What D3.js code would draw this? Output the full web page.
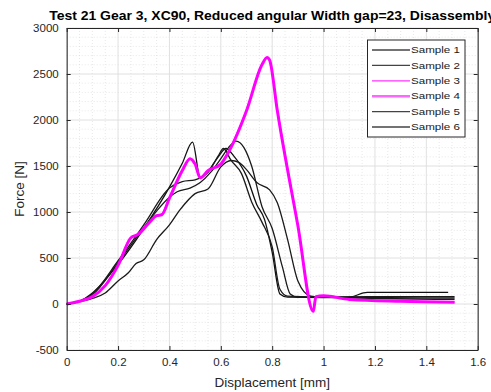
<!DOCTYPE html>
<html>
<head>
<meta charset="utf-8">
<script src="https://cdn.jsdelivr.net/npm/d3@7"></script>
<style>
  body { margin: 0; background: #fff; }
  svg { display: block; font-family: "Liberation Sans", Arial, sans-serif; }
</style>
</head>
<body>
<div id="chart"></div>
<script>
const seriesNames = ['Sample 1', 'Sample 2', 'Sample 3', 'Sample 4', 'Sample 5', 'Sample 6'];
const seriesColors = ['#111111', '#1a1a1a', '#ff00ff', '#ff00ff', '#1a1a1a', '#1a1a1a'];
const seriesWidths = [1.3, 1.3, 1.3, 3, 1.3, 1.3];

const xTicks = [0, 0.2, 0.4, 0.6, 0.8, 1, 1.2, 1.4, 1.6];
const yTicks = [-500, 0, 500, 1000, 1500, 2000, 2500, 3000];

// [displacement mm, force N]
const sample1 = [[0,0],[0.05,30],[0.1,120],[0.2,430],[0.3,820],[0.4,1270],[0.45,1530],[0.49,1760],[0.52,1370],[0.55,1440],[0.59,1600],[0.62,1690],[0.65,1610],[0.7,1390],[0.74,1080],[0.77,920],[0.8,560],[0.83,110],[0.86,75],[1.0,70],[1.1,75],[1.17,126],[1.485,126]];
const sample2 = [[0,0],[0.05,25],[0.1,60],[0.15,120],[0.2,250],[0.24,340],[0.27,440],[0.3,480],[0.35,700],[0.4,860],[0.44,1020],[0.5,1200],[0.55,1250],[0.6,1490],[0.64,1560],[0.67,1540],[0.7,1460],[0.74,1320],[0.79,1240],[0.82,1100],[0.86,700],[0.9,250],[0.95,85],[1.0,75],[1.51,65]];
const sample3 = [[0,0],[0.05,30],[0.1,80],[0.15,200],[0.2,430],[0.25,720],[0.28,760],[0.32,880],[0.35,960],[0.37,975],[0.4,1160],[0.45,1450],[0.48,1580],[0.5,1520],[0.52,1370],[0.55,1450],[0.6,1520],[0.63,1660],[0.7,2110],[0.76,2600],[0.78,2680],[0.79,2650],[0.82,2120],[0.9,860],[0.96,-70],[0.97,80],[1.0,90],[1.1,50],[1.3,30],[1.51,20]];
const sample4 = [[0,0],[0.05,30],[0.1,80],[0.15,200],[0.2,420],[0.25,720],[0.28,760],[0.32,880],[0.35,960],[0.37,970],[0.4,1150],[0.45,1450],[0.48,1580],[0.5,1520],[0.52,1370],[0.55,1450],[0.6,1520],[0.63,1650],[0.7,2100],[0.76,2600],[0.78,2680],[0.79,2650],[0.82,2100],[0.9,850],[0.96,-80],[0.97,80],[1.0,90],[1.1,50],[1.3,30],[1.51,20]];
const sample5 = [[0,0],[0.05,30],[0.1,100],[0.2,450],[0.3,830],[0.35,1010],[0.4,1160],[0.43,1220],[0.48,1260],[0.52,1320],[0.56,1430],[0.6,1580],[0.63,1700],[0.66,1770],[0.69,1700],[0.72,1500],[0.76,1060],[0.8,820],[0.84,400],[0.87,110],[0.9,75],[1.2,80],[1.51,80]];
const sample6 = [[0,0],[0.05,30],[0.1,110],[0.2,470],[0.3,860],[0.4,1260],[0.45,1330],[0.5,1350],[0.55,1430],[0.59,1610],[0.61,1690],[0.64,1560],[0.68,1420],[0.72,1110],[0.76,890],[0.8,620],[0.83,160],[0.86,85],[1.2,60],[1.51,50]];

const seriesData = [sample1, sample2, sample3, sample4, sample5, sample6];

const width = 491, height = 392;
const margin = {left: 66.7, right: 13.3, top: 28, bottom: 42};

const svg = d3.select('#chart').append('svg')
  .attr('width', width)
  .attr('height', height);

const xScale = d3.scaleLinear().domain([0, 1.6]).range([margin.left, width - margin.right]);
const yScale = d3.scaleLinear().domain([-500, 3000]).range([height - margin.bottom, margin.top]);

const [x0, x1] = xScale.range();
const [y0, y1] = yScale.range();

svg.append('rect')
  .attr('x', x0).attr('y', y1)
  .attr('width', x1 - x0).attr('height', y0 - y1)
  .attr('fill', '#fff');

// minor grid
const grid = svg.append('g');
grid.selectAll('.xminor')
  .data(d3.range(0, 1.6001, 0.05).filter(v => Math.abs(v / 0.2 - Math.round(v / 0.2)) > 1e-6))
  .enter().append('line')
    .attr('x1', d => xScale(d)).attr('x2', d => xScale(d))
    .attr('y1', y0).attr('y2', y1)
    .attr('stroke', '#d6d6d6').attr('stroke-width', 0.6)
    .attr('stroke-dasharray', '1,2');
grid.selectAll('.yminor')
  .data(d3.range(-500, 3001, 100).filter(v => v % 500 !== 0))
  .enter().append('line')
    .attr('x1', x0).attr('x2', x1)
    .attr('y1', d => yScale(d)).attr('y2', d => yScale(d))
    .attr('stroke', '#d6d6d6').attr('stroke-width', 0.6)
    .attr('stroke-dasharray', '1,2');
// major grid
grid.selectAll('.xmajor')
  .data(xTicks)
  .enter().append('line')
    .attr('x1', d => xScale(d)).attr('x2', d => xScale(d))
    .attr('y1', y0).attr('y2', y1)
    .attr('stroke', '#dcdcdc').attr('stroke-width', 0.9);
grid.selectAll('.ymajor')
  .data(yTicks)
  .enter().append('line')
    .attr('x1', x0).attr('x2', x1)
    .attr('y1', d => yScale(d)).attr('y2', d => yScale(d))
    .attr('stroke', '#dcdcdc').attr('stroke-width', 0.9);

// series
const line = d3.line()
  .x(d => xScale(d[0]))
  .y(d => yScale(d[1]))
  .curve(d3.curveMonotoneX);

const drawOrder = [0, 1, 4, 5, 2, 3];
svg.append('g').selectAll('path')
  .data(drawOrder)
  .enter().append('path')
    .attr('d', i => line(seriesData[i]))
    .attr('fill', 'none')
    .attr('stroke', i => seriesColors[i])
    .attr('stroke-width', i => seriesWidths[i])
    .attr('stroke-linejoin', 'round');

// axes (ticks inward, MATLAB style box)
const fmt = d => String(d);
const axisColor = '#262626';
const axBottom = svg.append('g')
  .attr('transform', `translate(0,${y0})`)
  .call(d3.axisBottom(xScale).tickValues(xTicks).tickSizeInner(-4).tickSizeOuter(0).tickPadding(8).tickFormat(fmt));
const axTop = svg.append('g')
  .attr('transform', `translate(0,${y1})`)
  .call(d3.axisTop(xScale).tickValues(xTicks).tickSizeInner(-4).tickSizeOuter(0).tickFormat(''));
const axLeft = svg.append('g')
  .attr('transform', `translate(${x0},0)`)
  .call(d3.axisLeft(yScale).tickValues(yTicks).tickSizeInner(-4).tickSizeOuter(0).tickPadding(8).tickFormat(fmt));
const axRight = svg.append('g')
  .attr('transform', `translate(${x1},0)`)
  .call(d3.axisRight(yScale).tickValues(yTicks).tickSizeInner(-4).tickSizeOuter(0).tickFormat(''));

[axBottom, axTop, axLeft, axRight].forEach(a => {
  a.select('.domain').attr('stroke', axisColor).attr('stroke-width', 1);
  a.selectAll('.tick line').attr('stroke', axisColor);
  a.selectAll('.tick text')
    .attr('fill', axisColor)
    .style('font-size', '11.5px')
    .style('font-family', '"Liberation Sans", Arial, sans-serif');
});

// labels
svg.append('text')
  .attr('x', (x0 + x1) / 2).attr('y', 387)
  .attr('text-anchor', 'middle')
  .attr('fill', axisColor)
  .style('font-size', '13.5px')
  .text('Displacement [mm]');

svg.append('text')
  .attr('transform', `translate(24,${(y0 + y1) / 2}) rotate(-90)`)
  .attr('text-anchor', 'middle')
  .attr('fill', axisColor)
  .style('font-size', '13.5px')
  .text('Force [N]');

svg.append('text')
  .attr('x', (x0 + x1) / 2).attr('y', 19.5)
  .attr('text-anchor', 'middle')
  .attr('fill', '#000')
  .style('font-size', '12px')
  .style('font-weight', 'bold')
  .attr('textLength', 446)
  .attr('lengthAdjust', 'spacingAndGlyphs')
  .text('Test 21 Gear 3, XC90, Reduced angular Width gap=23, Disassembly');

// legend
const legend = svg.append('g').attr('transform', 'translate(367.5,40)');
legend.append('rect')
  .attr('width', 97.5).attr('height', 97)
  .attr('fill', '#fff')
  .attr('stroke', axisColor).attr('stroke-width', 1);

const items = legend.selectAll('.item')
  .data(seriesNames)
  .enter().append('g')
    .attr('transform', (d, i) => `translate(0,${10 + i * 15.4})`);
items.append('line')
  .attr('x1', 4.5).attr('x2', 42.5)
  .attr('stroke', (d, i) => i < 2 || i > 3 ? '#444' : (i === 3 ? '#ff66ff' : '#ff33ff'))
  .attr('stroke-width', (d, i) => i === 3 ? 2.5 : 1.3);
items.append('text')
  .attr('x', 43.5).attr('y', 3.2)
  .attr('fill', '#1a1a1a')
  .style('font-size', '9px')
  .attr('textLength', 49)
  .attr('lengthAdjust', 'spacingAndGlyphs')
  .text(d => d);
</script>
</body>
</html>
